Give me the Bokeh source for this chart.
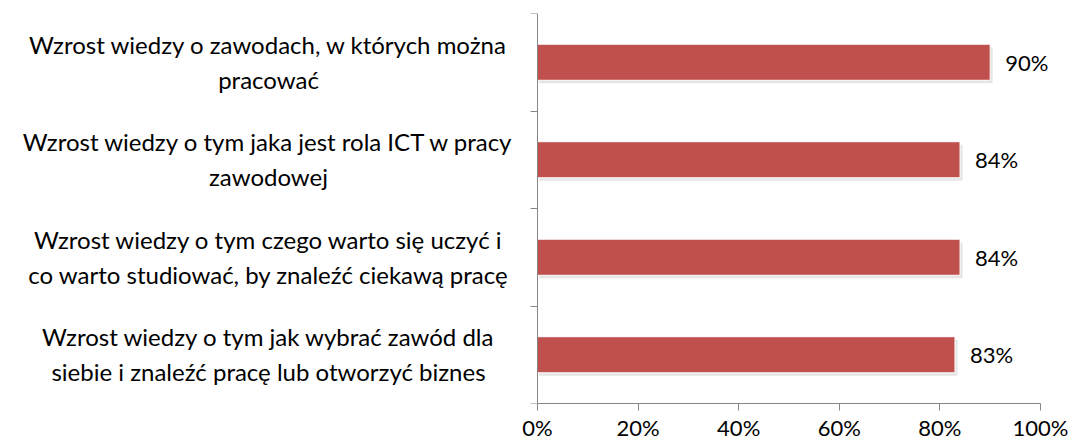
from bokeh.plotting import figure
from bokeh.models import (Range1d, FixedTicker, Label, LabelSet, ColumnDataSource)
from bokeh.core.properties import value
from bokeh.embed import file_html
from bokeh.resources import INLINE

# ---- data (top to bottom) ----
cat_line1 = [
    "Wzrost wiedzy o zawodach, w których można",
    "Wzrost wiedzy o tym jaka jest rola ICT w pracy",
    "Wzrost wiedzy o tym czego warto się uczyć i",
    "Wzrost wiedzy o tym jak wybrać zawód dla",
]
cat_line2 = [
    "pracować",
    "zawodowej",
    "co warto studiować, by znaleźć ciekawą pracę",
    "siebie i znaleźć pracę lub otworzyć biznes",
]
values = [90, 84, 84, 83]
value_labels = ["90%", "84%", "84%", "83%"]
x_ticks = [0, 20, 40, 60, 80, 100]
x_tick_labels = ["0%", "20%", "40%", "60%", "80%", "100%"]

FONT = "Lato"
CAT_SIZE = "24px"
VAL_SIZE = "22px"
BAR_COLOR = "#C0504D"
AXIS_COLOR = "#868686"

n = len(values)
ypos = [n - 0.5 - i for i in range(n)]

W, H = 1073, 443
LEFT_PX, RIGHT_PX = 537, 1040          # pixel positions of 0% and 100%
ppu = (RIGHT_PX - LEFT_PX) / 100.0
x_start = -LEFT_PX / ppu
x_end = (W - LEFT_PX) / ppu

p = figure(width=W, height=H, output_backend="svg", toolbar_location=None,
           x_range=Range1d(x_start, x_end), y_range=Range1d(0, n),
           min_border_left=0, min_border_right=0, min_border_top=13, min_border_bottom=38)
p.outline_line_color = None
p.xgrid.grid_line_color = None
p.ygrid.grid_line_color = None
p.background_fill_color = "white"
p.border_fill_color = "white"

src = ColumnDataSource(dict(y=ypos, v=values, lab=value_labels,
                            sy=[y - 0.03 for y in ypos],
                            sv=[v + 0.5 for v in values]))

# soft shadow
p.hbar(y="sy", right="sv", left=0.3, height=0.37, source=src,
       fill_color="#000000", fill_alpha=0.10, line_color=None)
p.hbar(y="y", right="v", left=0, height=0.37, source=src,
       fill_color=BAR_COLOR, line_color="white", line_width=1)

p.add_layout(LabelSet(x="v", y="y", text="lab", source=src, x_offset=15,
                      text_align="left", text_baseline="middle",
                      text_font=value(FONT), text_font_size=value(VAL_SIZE),
                      text_color="black"))

# x axis
xa = p.xaxis[0]
xa.ticker = FixedTicker(ticks=x_ticks)
xa.bounds = (0, 100)
xa.major_label_overrides = {t: l for t, l in zip(x_ticks, x_tick_labels)}
xa.axis_line_color = AXIS_COLOR
xa.major_tick_line_color = AXIS_COLOR
xa.major_tick_in = 0
xa.major_tick_out = 7
xa.minor_tick_line_color = None
xa.major_label_text_font = FONT
xa.major_label_text_font_size = VAL_SIZE
xa.major_label_text_color = "black"
xa.major_label_standoff = 3

# y axis at x = 0: category boundary ticks, no labels
ya = p.yaxis[0]
ya.fixed_location = 0
ya.ticker = FixedTicker(ticks=list(range(n + 1)))
ya.major_label_overrides = {i: "" for i in range(n + 1)}
ya.axis_line_color = AXIS_COLOR
ya.major_tick_line_color = AXIS_COLOR
ya.major_tick_in = 0
ya.major_tick_out = 7
ya.minor_tick_line_color = None

# category labels (two centred lines each)
label_x = (268 - LEFT_PX) / ppu
for i in range(n):
    for txt, off in ((cat_line1[i], 18), (cat_line2[i], -17)):
        p.add_layout(Label(x=label_x, y=ypos[i], y_offset=off, text=txt,
                           text_align="center", text_baseline="middle",
                           text_font=FONT, text_font_size=CAT_SIZE, text_color="black"))

open("out.html", "w").write(file_html(p, INLINE))
